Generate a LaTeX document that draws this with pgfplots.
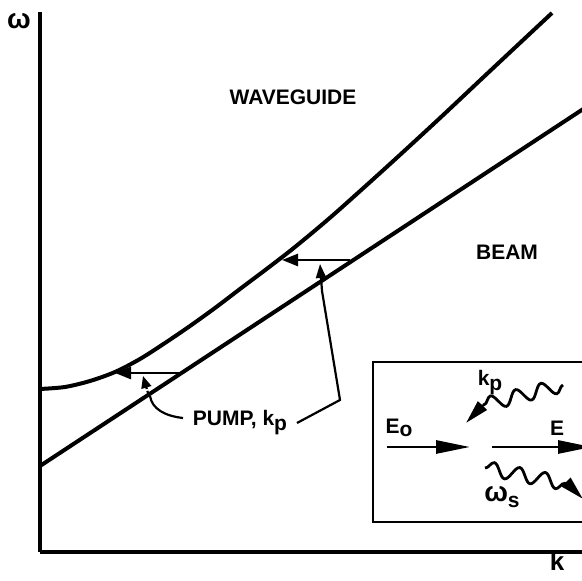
\documentclass[border=0pt]{standalone}
\usepackage{pgfplots}
\pgfplotsset{compat=1.18}
\usepackage{fontspec}
\setmainfont{Liberation Sans}
\usetikzlibrary{arrows.meta,decorations.pathmorphing}
\begin{document}
\begin{tikzpicture}[font=\bfseries\fontsize{10.5}{12}\selectfont]
\begin{axis}[x=0.5pt, y=0.5pt, xmin=40, xmax=600, ymin=29, ymax=569,
  axis lines=left, axis line style={-, line width=2pt},
  xtick=\empty, ytick=\empty, clip=false]
% waveguide dispersion
\addplot[line width=2pt, smooth, no marks] coordinates {
(40,192) (65,194) (90,200) (115,209) (140,222) (165,238) (190,255)
(215,273) (240,292) (265,310.8) (290,330) (315,350.5) (340,372) (390,417) (440,463)
(490,510) (552,568)};
% beam line
\addplot[line width=2pt, no marks] coordinates {(40,115) (600,483)};
% pump arrows
\addplot[line width=1.3pt, -{Triangle[length=8pt,width=6pt]}] coordinates {(180,208) (115,208)};
\addplot[line width=1.3pt, -{Triangle[length=8pt,width=6pt]}] coordinates {(350,321) (282,321)};
\coordinate (bl) at (axis cs:0,0);
\coordinate (tr) at (axis cs:582,581);
% leaders
\draw[line width=1.1pt] (axis cs:297,158) -- (axis cs:340,181) -- (axis cs:322,290);
\draw[line width=1.1pt, -{Triangle[length=7pt,width=5pt]}] (axis cs:322,290) -- (axis cs:320,317);
\draw[line width=1.1pt] (axis cs:183,163) .. controls (axis cs:165,165) and (axis cs:152,172) .. (axis cs:150,185);
\draw[line width=1.1pt, densely dotted, -{Triangle[length=6pt,width=5pt]}] (axis cs:148,188) -- (axis cs:143,205);
\node at (axis cs:240,158) {PUMP, k\raisebox{-0.45ex}{p}};
\node at (axis cs:293,484) {WAVEGUIDE};
\node at (axis cs:507,329) {BEAM};
\node at (axis cs:19,560) {\fontsize{14}{15}\selectfont ω};
\node at (axis cs:557,20) {\fontsize{13}{14}\selectfont k};
% inset
\draw[line width=1.4pt] (axis cs:600,219) -- (axis cs:373,219) -- (axis cs:373,59) -- (axis cs:600,59);
\node at (axis cs:399,153) {E\raisebox{-0.3ex}{o}};
\draw[line width=1.4pt, -{Triangle[length=17pt,width=6.5pt]}] (axis cs:387,134) -- (axis cs:470,134);
\draw[line width=1.4pt, -{Triangle[length=17pt,width=6.5pt]}] (axis cs:492,134) -- (axis cs:592,134);
\node at (axis cs:557,153) {E};
\node at (axis cs:490,198) {k\raisebox{-0.45ex}{p}};
\draw[line width=1.4pt, decorate, decoration={snake, segment length=13pt, amplitude=3.5pt}] (axis cs:563,196) -- (axis cs:483,176);
\draw[line width=1.4pt, -{Triangle[length=12pt,width=6pt]}] (axis cs:483,176) -- (axis cs:466,158);
\draw[line width=1.4pt, decorate, decoration={snake, segment length=13pt, amplitude=3.5pt}] (axis cs:485,113) -- (axis cs:568,97);
\draw[line width=1.4pt, -{Triangle[length=12pt,width=6pt]}] (axis cs:568,97) -- (axis cs:583,82);
\node at (axis cs:502,84) {\fontsize{14}{15}\selectfont ω\raisebox{-0.45ex}{\fontsize{10.5}{12}\selectfont s}};
\end{axis}
\pgfresetboundingbox
\useasboundingbox (bl) rectangle (tr);
\end{tikzpicture}
\end{document}
